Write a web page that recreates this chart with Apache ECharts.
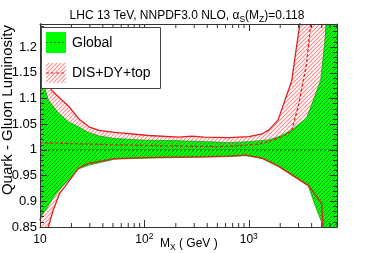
<!DOCTYPE html>
<html><head><meta charset="utf-8">
<script src="https://cdn.jsdelivr.net/npm/echarts@6/dist/echarts.min.js"></script>
<style>html,body{margin:0;padding:0;background:#fff}#c{width:374px;height:253px}</style>
</head><body><div id="c"></div>
<script>
// ---- axes ----
const xMin = 10, xMax = 7000;
const yMin = 0.85, yMax = 1.245, yInterval = 0.05;
const minorTicksX = [20,30,40,50,60,70,80,90,200,300,400,500,600,700,800,900,2000,3000,4000,5000,6000,7000];

// ---- Global band ----
const globalUpperM = [10, 10.5, 12, 15, 18.7, 23.3, 29, 37, 52, 100, 200, 400, 650, 1000, 1560, 2000, 2590, 3380, 3606, 4300, 4884, 5375, 5486, 6000, 7000];
const globalUpperV = [1.16, 1.136, 1.097, 1.072, 1.055, 1.045, 1.034, 1.027, 1.022, 1.019, 1.018, 1.016, 1.014, 1.016, 1.0195, 1.027, 1.039, 1.058, 1.064, 1.105, 1.136, 1.214, 1.245, 1.4, 1.6];
const globalLowerM = [9.3, 10, 13.9, 18, 23.3, 29, 52, 100, 200, 400, 650, 934, 1346, 1945, 2612, 3716, 4307, 4883, 5140, 6000, 7000];
const globalLowerV = [0.857, 0.866, 0.912, 0.938, 0.963, 0.970, 0.982, 0.984, 0.985, 0.986, 0.987, 0.989, 0.983, 0.967, 0.950, 0.930, 0.893, 0.864, 0.85, 0.7, 0.5];
const globalCenterM = [10, 7000];
const globalCenterV = [1.0, 1.0];

// ---- DIS+DY+top band ----
const redUpperM = [10, 10.3, 11, 11.7, 13, 16.2, 19, 23.6, 29.4, 36.7, 52, 110, 214, 286, 372, 646, 1005, 1337, 1560, 1904, 2576, 3077, 3500, 5000, 7000];
const redUpperV = [1.32, 1.20, 1.15, 1.136, 1.115, 1.097, 1.084, 1.06, 1.045, 1.038, 1.034, 1.028, 1.025, 1.027, 1.025, 1.024, 1.026, 1.031, 1.039, 1.058, 1.134, 1.245, 1.35, 1.6, 1.8];
const redLowerM = [10, 11, 12, 13.4, 15.5, 17.4, 23.3, 29, 52, 100, 200, 400, 650, 934, 1346, 1945, 2612, 3716, 4990, 5140, 6000, 7000];
const redLowerV = [0.79, 0.825, 0.85, 0.883, 0.916, 0.929, 0.964, 0.974, 0.983, 0.985, 0.986, 0.987, 0.988, 0.990, 0.984, 0.968, 0.951, 0.931, 0.896, 0.85, 0.6, 0.4];
const redCenterM = [10, 52, 150, 500, 800, 1200, 1560, 2270, 2594, 3027, 3588, 3918, 5000, 7000];
const redCenterV = [1.014, 1.010, 1.008, 1.0065, 1.008, 1.011, 1.016, 1.029, 1.039, 1.091, 1.169, 1.245, 1.5, 1.8];

const FONT = 'Liberation Sans';

function hatch(bg, fg, lw) {
  const c = document.createElement('canvas');
  c.width = 4; c.height = 4;
  const g = c.getContext('2d');
  if (bg) { g.fillStyle = bg; g.fillRect(0, 0, 4, 4); }
  g.strokeStyle = fg; g.lineWidth = lw;
  for (const o of [-4, 0, 4]) { g.beginPath(); g.moveTo(o - 1, 5); g.lineTo(o + 5, -1); g.stroke(); }
  return c;
}
const greenPattern = { image: hatch('#00ff00', '#1f8f1f', 0.9), repeat: 'repeat' };
const pinkPattern = { image: hatch('#ffffff', '#ff8c8c', 1.1), repeat: 'repeat' };

function pairs(M, V) { return M.map((m, i) => [m, V[i]]); }

function band(upM, upV, loM, loV, fill, z) {
  return {
    type: 'custom', z: z, clip: true, silent: true, data: [[xMin, yMin]],
    renderItem: function (params, api) {
      const pts = [];
      for (let i = 0; i < upM.length; i++) pts.push(api.coord([upM[i], upV[i]]));
      for (let i = loM.length - 1; i >= 0; i--) pts.push(api.coord([loM[i], loV[i]]));
      return { type: 'polygon', shape: { points: pts }, style: { fill: fill, stroke: null } };
    }
  };
}
function line(M, V, color, width, dash, z) {
  return {
    type: 'line', data: pairs(M, V), showSymbol: false, symbol: 'none', clip: true, z: z, silent: true,
    lineStyle: { color: color, width: width, type: dash || 'solid' }
  };
}

const chart = echarts.init(document.getElementById('c'), null, { renderer: 'canvas' });
chart.setOption({
  animation: false,
  backgroundColor: '#fff',
  title: {
    left: 'center', top: 2,
    text: '{n|LHC 13 TeV, NNPDF3.0 NLO, α}{s|S}{n|(M}{s|Z}{n|)=0.118}',
    textStyle: {
      rich: {
        n: { fontFamily: FONT, fontSize: 12, color: '#000', fontWeight: 'normal', lineHeight: 17 },
        s: { fontFamily: FONT, fontSize: 8.5, color: '#000', fontWeight: 'normal', lineHeight: 9, verticalAlign: 'bottom' }
      }
    }
  },
  grid: { left: 40, right: 37, top: 24, bottom: 26, show: false },
  xAxis: [
    {
      type: 'log', logBase: 10, min: xMin, max: xMax, position: 'bottom', z: 10,
      axisLine: { show: true, lineStyle: { color: '#333', width: 1 } },
      axisTick: { show: true, inside: true, length: 7, lineStyle: { color: '#333' } },
      splitLine: { show: false },
      axisLabel: {
        margin: 5, showMaxLabel: false, showMinLabel: true,
        formatter: function (v) {
          const e = Math.round(Math.log10(v));
          return e === 1 ? '{b|10}' : '{b|10}{s|' + e + '}';
        },
        rich: {
          b: { fontFamily: FONT, fontSize: 12, color: '#000', lineHeight: 16 },
          s: { fontFamily: FONT, fontSize: 8.5, color: '#000', lineHeight: 9, verticalAlign: 'top' }
        }
      }
    },
    {
      type: 'log', logBase: 10, min: xMin, max: xMax, position: 'top', z: 10,
      axisLine: { show: true, lineStyle: { color: '#333', width: 1 } },
      axisTick: { show: true, inside: true, length: 7, lineStyle: { color: '#333' } },
      splitLine: { show: false }, axisLabel: { show: false }
    }
  ],
  yAxis: [
    {
      type: 'value', min: yMin, max: yMax, interval: yInterval, position: 'left', z: 10,
      axisLine: { show: true, lineStyle: { color: '#333', width: 1 } },
      axisTick: { show: true, inside: true, length: 7, lineStyle: { color: '#333' } },
      minorTick: { show: true, splitNumber: 5, length: 4, lineStyle: { color: '#333' } },
      splitLine: { show: false },
      axisLabel: { fontFamily: FONT, fontSize: 13, color: '#000', margin: 3, showMaxLabel: false }
    },
    {
      type: 'value', min: yMin, max: yMax, interval: yInterval, position: 'right', z: 10,
      axisLine: { show: true, lineStyle: { color: '#333', width: 1 } },
      axisTick: { show: true, inside: true, length: 7, lineStyle: { color: '#333' } },
      minorTick: { show: true, splitNumber: 5, length: 4, lineStyle: { color: '#333' } },
      splitLine: { show: false }, axisLabel: { show: false }
    }
  ],
  series: [
    band(redUpperM, redUpperV, redLowerM, redLowerV, pinkPattern, 1),
    band(globalUpperM, globalUpperV, globalLowerM, globalLowerV, greenPattern, 2),
    line(globalUpperM, globalUpperV, '#22a022', 0.8, null, 3),
    line(globalLowerM, globalLowerV, '#22a022', 0.8, null, 3),
    line(redUpperM, redUpperV, '#e02020', 1.3, null, 4),
    line(redLowerM, redLowerV, '#e02020', 1.3, null, 4),
    line(redCenterM, redCenterV, '#e02020', 1.3, [3, 2], 5),
    line(globalCenterM, globalCenterV, '#1d6b1d', 1, [2, 2], 5),
    {
      type: 'custom', z: 11, silent: true, clip: false,
      data: minorTicksX.map(v => [v, yMin]),
      renderItem: function (params, api) {
        const v = api.value(0);
        const b = api.coord([v, yMin]);
        const t = api.coord([v, yMax]);
        return {
          type: 'group', children: [
            { type: 'line', shape: { x1: b[0], y1: b[1], x2: b[0], y2: b[1] - 4 }, style: { stroke: '#333', lineWidth: 1 } },
            { type: 'line', shape: { x1: t[0], y1: t[1], x2: t[0], y2: t[1] + 4 }, style: { stroke: '#333', lineWidth: 1 } }
          ]
        };
      }
    }
  ],
  graphic: [
    { type: 'rect', z: 100, shape: { x: 41.5, y: 27.5, width: 119, height: 61 }, style: { fill: '#fff', stroke: '#444', lineWidth: 1 } },
    { type: 'rect', z: 101, shape: { x: 46, y: 32, width: 20, height: 21 }, style: { fill: '#00ff00' } },
    { type: 'line', z: 102, shape: { x1: 46, y1: 42.5, x2: 66, y2: 42.5 }, style: { stroke: '#1d6b1d', lineWidth: 1, lineDash: [2, 2] } },
    { type: 'text', z: 102, x: 72, y: 43, style: { text: 'Global', font: '14px "Liberation Sans"', fill: '#000', textVerticalAlign: 'middle' } },
    { type: 'rect', z: 101, shape: { x: 46, y: 63, width: 20, height: 20 }, style: { fill: pinkPattern } },
    { type: 'line', z: 102, shape: { x1: 46, y1: 73, x2: 66, y2: 73 }, style: { stroke: '#e02020', lineWidth: 1, lineDash: [3, 2] } },
    { type: 'text', z: 102, x: 72, y: 73.5, style: { text: 'DIS+DY+top', font: '14px "Liberation Sans"', fill: '#000', textVerticalAlign: 'middle' } },
    { type: 'text', z: 102, x: 0, y: 25, rotation: Math.PI / 2,
      style: { text: 'Quark - Gluon Luminosity', font: '15px "Liberation Sans"', fill: '#000', textAlign: 'right', textVerticalAlign: 'top' } },
    { type: 'text', z: 102, x: 160, y: 236,
      style: { text: '{n|M}{s|X}{n| ( GeV )}', fill: '#000',
        rich: {
          n: { fontFamily: FONT, fontSize: 12, color: '#000', lineHeight: 16 },
          s: { fontFamily: FONT, fontSize: 8.5, color: '#000', lineHeight: 9, verticalAlign: 'bottom' }
        } } }
  ]
});
</script></body></html>
